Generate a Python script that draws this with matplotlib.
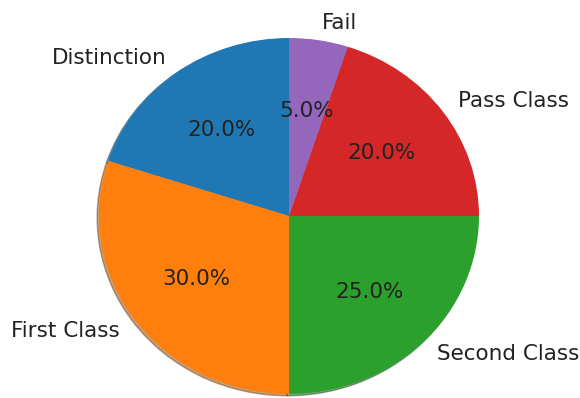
import matplotlib
matplotlib.use("Agg")
import matplotlib.pyplot as plt

# grade distribution of the class
labels = ["Distinction", "First Class", "Second Class", "Pass Class", "Fail"]
shares = [20, 30, 25, 20, 5]

fig = plt.figure(figsize=(5.8, 3.98), dpi=100)
ax = fig.add_axes([51.5 / 580, -40.5 / 398, 475 / 580, 445 / 398])
ax.pie(shares, labels=labels, autopct="%1.1f%%", startangle=90,
       shadow={"ox": -0.007, "oy": -0.007, "shade": 0.5},
       textprops={"fontsize": 15.5, "color": "#222222"})
ax.set_aspect("auto")
ax.set_xlim(-1.25, 1.25)
ax.set_ylim(-1.25, 1.25)

fig.savefig("out.png", dpi=100)
